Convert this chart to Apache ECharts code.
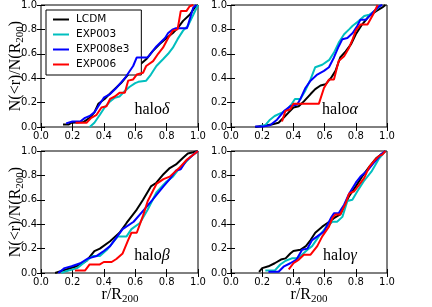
<!DOCTYPE html>
<html><head><meta charset="utf-8">
<script src="https://cdn.jsdelivr.net/npm/echarts@6/dist/echarts.min.js"></script>
<style>html,body{margin:0;padding:0;background:#fff}#c{width:432px;height:307px}</style>
</head><body><div id="c"></div>
<script>
const models = ['LCDM','EXP003','EXP008e3','EXP006'];
const colors = ['#000000','#00bfbf','#0000ff','#ff0000'];
const tickValues = [0,0.2,0.4,0.6,0.8,1.0];

// halo delta (top-left)
const deltaLCDM = [[0.14,0.02],[0.175,0.02],[0.195,0.035],[0.27,0.04],[0.31,0.075],[0.34,0.12],[0.365,0.19],[0.405,0.23],[0.46,0.30],[0.51,0.36],[0.565,0.445],[0.62,0.50],[0.67,0.555],[0.71,0.62],[0.756,0.68],[0.80,0.73],[0.84,0.77],[0.87,0.81],[0.905,0.87],[0.947,0.92],[0.98,0.98],[1.0,1.0]];
const deltaEXP003 = [[0.31,0.0],[0.34,0.035],[0.375,0.10],[0.405,0.16],[0.44,0.21],[0.47,0.24],[0.50,0.25],[0.534,0.295],[0.565,0.33],[0.60,0.36],[0.62,0.37],[0.67,0.38],[0.70,0.43],[0.735,0.50],[0.777,0.555],[0.81,0.60],[0.84,0.65],[0.87,0.72],[0.905,0.79],[0.936,0.83],[0.97,0.92],[1.0,1.0]];
const deltaEXP008e3 = [[0.16,0.03],[0.2,0.045],[0.25,0.045],[0.28,0.075],[0.31,0.09],[0.34,0.12],[0.365,0.17],[0.40,0.24],[0.44,0.27],[0.48,0.32],[0.534,0.40],[0.587,0.50],[0.61,0.57],[0.68,0.57],[0.735,0.66],[0.79,0.73],[0.81,0.77],[0.84,0.80],[0.86,0.81],[0.93,0.81],[0.97,0.98],[0.99,1.0]];
const deltaEXP006 = [[0.22,0.035],[0.29,0.035],[0.32,0.075],[0.354,0.10],[0.385,0.16],[0.417,0.17],[0.44,0.23],[0.47,0.25],[0.50,0.28],[0.534,0.28],[0.555,0.38],[0.587,0.39],[0.61,0.43],[0.65,0.445],[0.67,0.50],[0.714,0.54],[0.746,0.60],[0.777,0.65],[0.81,0.73],[0.84,0.79],[0.87,0.80],[0.89,0.95],[0.926,0.95],[0.947,0.99],[0.97,1.0]];

// halo alpha (top-right)
const alphaLCDM = [[0.155,0],[0.21,0.01],[0.26,0.02],[0.305,0.035],[0.34,0.08],[0.37,0.12],[0.40,0.16],[0.434,0.17],[0.467,0.21],[0.51,0.27],[0.54,0.31],[0.574,0.34],[0.606,0.35],[0.64,0.40],[0.67,0.46],[0.70,0.57],[0.735,0.62],[0.77,0.68],[0.80,0.76],[0.84,0.84],[0.886,0.91],[0.93,0.95],[0.97,0.98],[0.99,1.0]];
const alphaEXP003 = [[0.19,0.01],[0.22,0.015],[0.25,0.06],[0.28,0.09],[0.33,0.12],[0.36,0.145],[0.39,0.19],[0.41,0.23],[0.445,0.23],[0.477,0.30],[0.51,0.39],[0.54,0.49],[0.585,0.51],[0.63,0.55],[0.66,0.61],[0.69,0.69],[0.725,0.76],[0.757,0.80],[0.78,0.83],[0.82,0.87],[0.854,0.91],[0.886,0.92],[0.93,0.96],[0.96,1.0]];
const alphaEXP008e3 = [[0.155,0.005],[0.21,0.005],[0.25,0.015],[0.295,0.06],[0.34,0.13],[0.38,0.17],[0.424,0.185],[0.445,0.23],[0.477,0.32],[0.51,0.38],[0.553,0.43],[0.596,0.46],[0.628,0.49],[0.66,0.57],[0.69,0.66],[0.714,0.72],[0.746,0.73],[0.78,0.77],[0.81,0.83],[0.83,0.88],[0.865,0.88],[0.91,0.94],[0.95,0.99],[0.97,1.0]];
const alphaEXP006 = [[0.327,0.045],[0.348,0.13],[0.38,0.145],[0.40,0.19],[0.563,0.19],[0.596,0.32],[0.628,0.39],[0.66,0.39],[0.69,0.54],[0.725,0.58],[0.757,0.65],[0.78,0.72],[0.80,0.79],[0.83,0.84],[0.875,0.84],[0.91,0.92],[0.94,1.0]];

// halo beta (bottom-left)
const betaLCDM = [[0.09,0],[0.14,0.02],[0.227,0.055],[0.29,0.1],[0.34,0.18],[0.375,0.2],[0.44,0.26],[0.50,0.33],[0.545,0.41],[0.61,0.52],[0.65,0.6],[0.70,0.71],[0.735,0.74],[0.78,0.81],[0.82,0.86],[0.86,0.89],[0.905,0.945],[0.935,0.98],[0.97,0.99],[1.0,1.0]];
const betaEXP003 = [[0.13,0],[0.16,0.015],[0.23,0.04],[0.29,0.1],[0.33,0.14],[0.375,0.14],[0.42,0.19],[0.47,0.27],[0.49,0.30],[0.545,0.30],[0.576,0.36],[0.63,0.41],[0.68,0.52],[0.735,0.66],[0.77,0.71],[0.80,0.75],[0.84,0.79],[0.87,0.84],[0.915,0.90],[0.96,0.96],[1.0,1.0]];
const betaEXP008e3 = [[0.11,0],[0.15,0.04],[0.195,0.055],[0.25,0.08],[0.30,0.12],[0.355,0.14],[0.40,0.18],[0.44,0.22],[0.48,0.29],[0.52,0.36],[0.59,0.42],[0.65,0.51],[0.71,0.60],[0.78,0.71],[0.82,0.77],[0.86,0.84],[0.89,0.85],[0.925,0.92],[0.97,0.97],[1.0,1.0]];
const betaEXP006 = [[0.216,0.02],[0.28,0.02],[0.31,0.07],[0.375,0.07],[0.40,0.09],[0.45,0.09],[0.48,0.115],[0.52,0.16],[0.555,0.27],[0.576,0.33],[0.61,0.33],[0.65,0.47],[0.68,0.59],[0.735,0.73],[0.78,0.77],[0.82,0.79],[0.88,0.86],[0.93,0.93],[0.99,0.99],[1.0,1.0]];

// halo gamma (bottom-right)
const gammaLCDM = [[0.18,0.01],[0.2,0.04],[0.24,0.055],[0.28,0.08],[0.32,0.11],[0.35,0.12],[0.38,0.16],[0.40,0.18],[0.445,0.19],[0.48,0.22],[0.51,0.27],[0.54,0.33],[0.585,0.38],[0.63,0.42],[0.66,0.45],[0.70,0.48],[0.735,0.57],[0.757,0.63],[0.80,0.71],[0.84,0.79],[0.886,0.87],[0.93,0.94],[0.97,0.98],[0.99,1.0]];
const gammaEXP003 = [[0.22,0.02],[0.28,0.02],[0.316,0.07],[0.35,0.1],[0.39,0.12],[0.43,0.12],[0.49,0.19],[0.52,0.22],[0.563,0.30],[0.606,0.37],[0.65,0.42],[0.68,0.42],[0.714,0.46],[0.746,0.59],[0.778,0.60],[0.81,0.67],[0.85,0.75],[0.90,0.83],[0.95,0.94],[0.99,1.0]];
const gammaEXP008e3 = [[0.24,0.01],[0.305,0.01],[0.34,0.055],[0.38,0.08],[0.42,0.11],[0.456,0.19],[0.49,0.2],[0.52,0.27],[0.553,0.30],[0.596,0.34],[0.64,0.45],[0.66,0.49],[0.69,0.49],[0.725,0.56],[0.757,0.65],[0.80,0.74],[0.83,0.79],[0.875,0.84],[0.92,0.91],[0.96,0.97],[0.99,1.0]];
const gammaEXP006 = [[0.37,0.03],[0.40,0.08],[0.435,0.11],[0.467,0.15],[0.51,0.15],[0.553,0.22],[0.585,0.30],[0.628,0.38],[0.65,0.45],[0.67,0.48],[0.70,0.48],[0.735,0.57],[0.757,0.65],[0.79,0.67],[0.82,0.72],[0.854,0.78],[0.886,0.87],[0.918,0.92],[0.95,0.96],[0.97,0.97],[0.99,1.0]];

const panels = [
  {greek:'δ', curves:[deltaLCDM,deltaEXP003,deltaEXP008e3,deltaEXP006]},
  {greek:'α', curves:[alphaLCDM,alphaEXP003,alphaEXP008e3,alphaEXP006]},
  {greek:'β', curves:[betaLCDM,betaEXP003,betaEXP008e3,betaEXP006]},
  {greek:'γ', curves:[gammaLCDM,gammaEXP003,gammaEXP008e3,gammaEXP006]}
];

const gridBoxes = [
  {left:41, top:5, width:157, height:122},
  {left:231, top:5, width:156, height:122},
  {left:41, top:151, width:157, height:122},
  {left:231, top:151, width:156, height:122}
];
const labelPos = [[152,110],[340,110],[152,256],[340,256]];

const tickFont = {fontFamily:'DejaVu Sans', fontSize:10, color:'#000'};
const grid=[], xAxis=[], yAxis=[], series=[], graphic=[];
gridBoxes.forEach((b,g)=>{
  grid.push(Object.assign({show:true, borderColor:'#000', borderWidth:1, backgroundColor:'rgba(0,0,0,0)', containLabel:false}, b));
  const common = {type:'value', min:0, max:1, interval:0.2, gridIndex:g, splitLine:{show:false}, axisLine:{show:false}};
  xAxis.push(Object.assign({}, common, {position:'bottom', axisTick:{inside:true,length:4,lineStyle:{color:'#000'}},
    axisLabel:Object.assign({margin:4, showMinLabel:true, showMaxLabel:true, formatter:v=>v.toFixed(1)}, tickFont)}));
  xAxis.push(Object.assign({}, common, {position:'top', axisTick:{inside:true,length:4,lineStyle:{color:'#000'}}, axisLabel:{show:false}}));
  yAxis.push(Object.assign({}, common, {position:'left', axisTick:{inside:true,length:4,lineStyle:{color:'#000'}},
    axisLabel:Object.assign({margin:4, showMinLabel:true, showMaxLabel:true, formatter:v=>v.toFixed(1)}, tickFont)}));
  yAxis.push(Object.assign({}, common, {position:'right', axisTick:{inside:true,length:4,lineStyle:{color:'#000'}}, axisLabel:{show:false}}));
  panels[g].curves.forEach((d,i)=>{
    series.push({type:'line', name:models[i], xAxisIndex:2*g, yAxisIndex:2*g, data:d, symbol:'none', showSymbol:false,
      lineStyle:{color:colors[i], width:2}, itemStyle:{color:colors[i]}, animation:false, z:2+i, silent:true});
  });
  graphic.push({type:'text', x:labelPos[g][0], y:labelPos[g][1], style:{
    text:'{a|halo}{b|'+panels[g].greek+'}', align:'center', verticalAlign:'middle',
    rich:{a:{fontFamily:'Liberation Serif', fontSize:16, fill:'#000', lineHeight:18},
          b:{fontFamily:'Liberation Serif', fontStyle:'italic', fontSize:16, fill:'#000', lineHeight:18}}}});
});

const titleRich = {
  m:{fontFamily:'Liberation Serif', fontSize:16, fill:'#000', lineHeight:20},
  s:{fontFamily:'Liberation Serif', fontSize:11, fill:'#000', lineHeight:11, verticalAlign:'bottom'}
};
[[16,66],[16,212]].forEach(p=>{
  graphic.push({type:'text', x:p[0], y:p[1], rotation:Math.PI/2, style:{
    text:'{m|N(<r)/N(R}{s|200}{m|)}', align:'center', verticalAlign:'middle', rich:titleRich}});
});
[[120,295],[309,295]].forEach(p=>{
  graphic.push({type:'text', x:p[0], y:p[1], style:{
    text:'{m|r/R}{s|200}', align:'center', verticalAlign:'middle', rich:titleRich}});
});

const chart = echarts.init(document.getElementById('c'), null, {renderer:'canvas'});
chart.setOption({
  animation:false,
  grid, xAxis, yAxis, series, graphic,
  legend:{data:models.map((n,i)=>({name:n, icon:'rect', itemStyle:{color:colors[i]}})), orient:'vertical', left:46, top:10,
    itemWidth:16, itemHeight:2, itemGap:4,
    padding:[4,12,5,7], borderColor:'#000', borderWidth:1, borderRadius:0, backgroundColor:'#fff',
    textStyle:{fontFamily:'DejaVu Sans', fontSize:10.5, color:'#000', lineHeight:10, padding:[0,0,0,2]}, selectedMode:false}
});
</script></body></html>
